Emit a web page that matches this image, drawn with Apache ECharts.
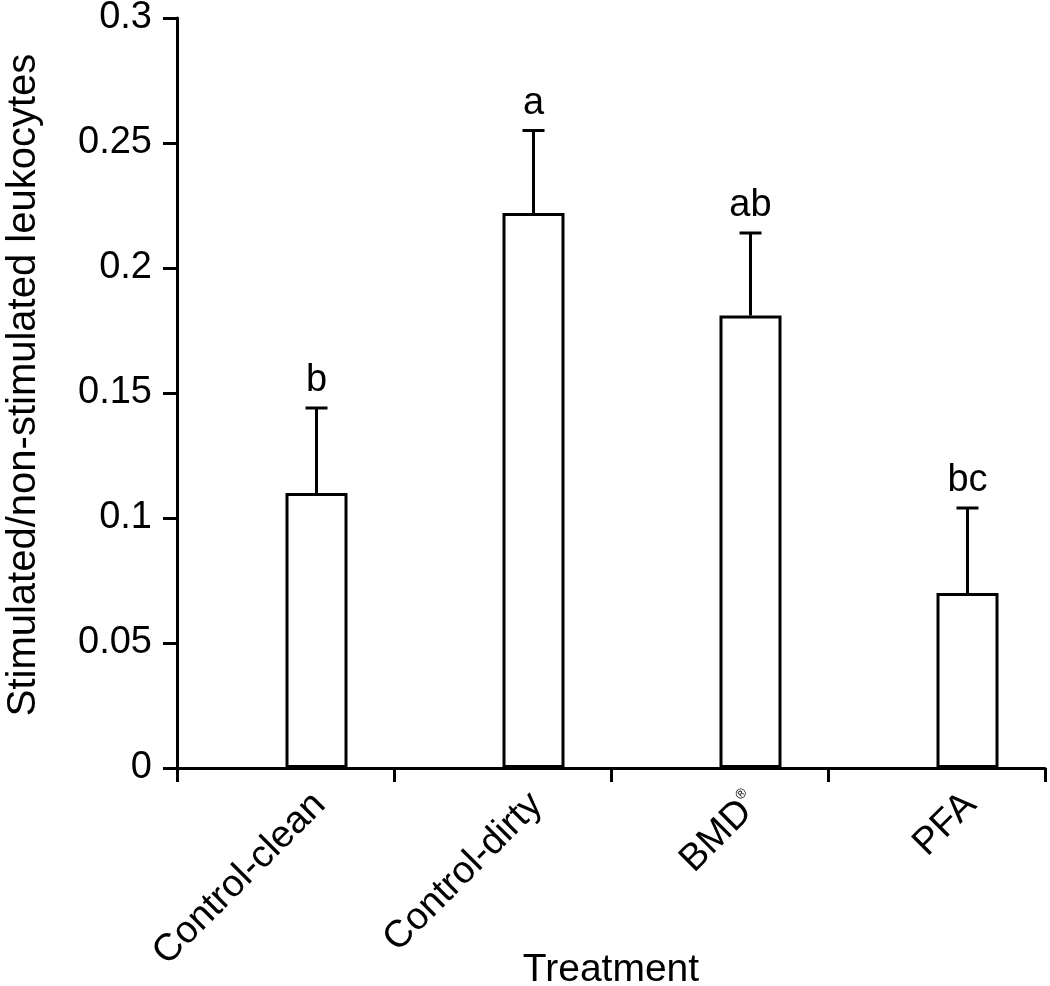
<!DOCTYPE html>
<html>
<head>
<meta charset="utf-8">
<script src="https://cdn.jsdelivr.net/npm/echarts@6/dist/echarts.min.js"></script>
<style>
  html, body { margin: 0; padding: 0; background: #fff; }
  #chart { width: 1050px; height: 986px; }
</style>
</head>
<body>
<div id="chart"></div>
<script>
// ---- data ----
const categories = ['Control-clean', 'Control-dirty', 'BMD®', 'PFA'];
const means = [0.110, 0.222, 0.181, 0.070];
const upperErr = [0.144, 0.255, 0.214, 0.104];
const letters = ['b', 'a', 'ab', 'bc'];
const yTicks = [0, 0.05, 0.1, 0.15, 0.2, 0.25, 0.3];
const yTitle = 'Stimulated/non-stimulated leukocytes';
const xTitle = 'Treatment';

// ---- style ----
const FONT = 'Liberation Sans, Arial, sans-serif';
const FS = 38;
const BAR_W = 62;
const LW = 3;

const chart = echarts.init(document.getElementById('chart'), null, { renderer: 'canvas' });

function labelText(name) {
  return name.replace('®', '{s|®}');
}

const option = {
  backgroundColor: '#fff',
  animation: false,
  grid: { left: 177, right: 5, top: 18, bottom: 218, containLabel: false, outerBoundsMode: 'none' },
  xAxis: {
    type: 'category',
    data: categories,
    boundaryGap: true,
    axisLine: { show: true, lineStyle: { color: '#000', width: LW } },
    axisTick: { show: true, alignWithLabel: false, length: 14, lineStyle: { color: '#000', width: LW } },
    axisLabel: { show: false },
    splitLine: { show: false },
    name: xTitle,
    nameLocation: 'middle',
    nameGap: 183,
    nameTextStyle: { fontFamily: FONT, fontSize: 39, color: '#000' }
  },
  yAxis: {
    type: 'value',
    min: yTicks[0],
    max: yTicks[yTicks.length - 1],
    interval: yTicks[1] - yTicks[0],
    axisLine: { show: true, lineStyle: { color: '#000', width: LW } },
    axisTick: { show: true, length: 14, lineStyle: { color: '#000', width: LW } },
    axisLabel: { fontFamily: FONT, fontSize: FS, color: '#000', margin: 25 },
    splitLine: { show: false },
    name: yTitle,
    nameLocation: 'middle',
    nameGap: 133,
    nameRotate: 90,
    nameTextStyle: { fontFamily: FONT, fontSize: 40, color: '#000', padding: [0, 0, 0, 16] }
  },
  series: [
    {
      type: 'bar',
      name: 'spacer',
      data: categories.map(() => '-'),
      barWidth: BAR_W,
      barGap: '0%',
      silent: true
    },
    {
      type: 'bar',
      name: 'mean',
      data: means,
      barWidth: BAR_W,
      barGap: '0%',
      itemStyle: { color: '#fff', borderColor: '#000', borderWidth: LW }
    },
    {
      type: 'custom',
      name: 'error',
      clip: false,
      data: categories.map((c, i) => [i, means[i], upperErr[i]]),
      encode: { x: 0, y: [1, 2] },
      renderItem: function (params, api) {
        const i = api.value(0);
        const top = api.coord([i, api.value(1)]);
        const up = api.coord([i, api.value(2)]);
        const base = api.coord([i, 0]);
        const x = top[0] + BAR_W / 2;
        const capHalf = 11;
        return {
          type: 'group',
          children: [
            { type: 'line', shape: { x1: x, y1: top[1], x2: x, y2: up[1] }, style: { stroke: '#000', lineWidth: LW } },
            { type: 'line', shape: { x1: x - capHalf, y1: up[1], x2: x + capHalf, y2: up[1] }, style: { stroke: '#000', lineWidth: LW } },
            { type: 'text', x: x, y: up[1] - 8,
              style: { text: letters[params.dataIndex], fontFamily: FONT, fontSize: FS, fill: '#000', align: 'center', verticalAlign: 'bottom' } },
            { type: 'text', x: x + 3, y: base[1] + 31, rotation: Math.PI / 4,
              style: { text: labelText(categories[params.dataIndex]), fontFamily: FONT, fontSize: FS, fill: '#000',
                       align: 'right', verticalAlign: 'middle',
                       rich: { s: { fontFamily: FONT, fontSize: 14, fill: '#000', verticalAlign: 'top', padding: [0, 0, 22, 0] } } } }
          ]
        };
      },
      z: 5
    }
  ]
};
chart.setOption(option);
</script>
</body>
</html>
